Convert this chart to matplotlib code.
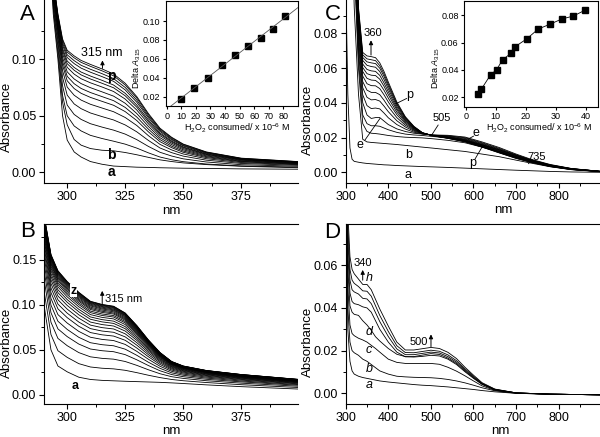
import matplotlib.pyplot as plt
import numpy as np

plt.rcParams['font.family'] = 'Liberation Sans'
plt.rcParams['mathtext.fontset'] = 'custom'
plt.rcParams['mathtext.rm'] = 'Liberation Sans'
plt.rcParams['mathtext.it'] = 'Liberation Sans:italic'

# ---- panel A spectra (mAbs), curves a..p
wl_A = [290, 294, 296, 298, 300, 303, 306, 310, 315, 320, 325, 330, 335, 340, 345, 350, 360, 375, 400]
spec_A = [
    [300, 140, 100, 50, 28.5, 18, 13.5, 9.5, 7.1, 5.5, 5.0, 4.5, 4.3, 4.0, 3.8, 3.6, 3.4, 3.0, 2.7],
    [320, 145, 105, 62, 42, 29, 24, 21, 19.5, 19, 17.5, 15.5, 13.2, 11, 9.5, 8.3, 6.8, 5.3, 4.0],
    [327, 148, 111, 68, 50, 41, 36.6, 32.7, 29.9, 27.5, 24.9, 21.4, 17.2, 13.5, 11.1, 9.4, 7.3, 5.6, 4.5],
    [340, 152, 116, 76.5, 59.5, 51.2, 46.8, 43, 40, 37.3, 33.8, 28.9, 22.9, 17.7, 14.4, 11.9, 9.1, 6.7, 5.3],
    [350, 155, 120, 84, 68.3, 60.5, 56.3, 52.5, 49.3, 46.3, 41.9, 35.8, 28.2, 21.5, 17.4, 14.3, 10.7, 7.8, 6.1],
    [360, 158, 124, 90, 75.4, 68.2, 63.9, 60.2, 56.9, 53.6, 48.5, 41.4, 32.4, 24.7, 19.8, 16.2, 12, 8.6, 6.7],
    [370, 160, 126, 94.9, 81, 74.1, 69.9, 66.3, 62.8, 59.3, 53.7, 45.8, 35.8, 27.1, 21.8, 17.7, 13, 9.3, 7.1],
    [370, 161, 128, 98.3, 84.9, 78.4, 74.2, 70.6, 67, 63.4, 57.4, 48.9, 38.2, 28.9, 23.1, 18.8, 13.8, 9.7, 7.5],
    [380, 163, 130, 101.7, 88.9, 82.6, 78.5, 74.9, 71.2, 67.4, 61.1, 52, 40.6, 30.6, 24.5, 19.9, 14.5, 10.2, 7.8],
    [380, 164, 132, 105.1, 92.9, 86.9, 82.8, 79.2, 75.5, 71.5, 64.8, 55.1, 42.9, 32.4, 25.8, 20.9, 15.2, 10.7, 8.1],
    [390, 166, 134, 107.8, 96.1, 90.3, 86.2, 82.6, 78.8, 74.8, 67.7, 57.6, 44.8, 33.8, 26.9, 21.8, 15.8, 11.1, 8.4],
    [390, 166, 135, 109.8, 98.5, 92.8, 88.7, 85.2, 81.4, 77.2, 69.9, 59.5, 46.3, 34.8, 27.7, 22.4, 16.2, 11.4, 8.6],
    [390, 168, 137, 112.6, 101.6, 96.2, 92.2, 88.6, 84.7, 80.5, 72.9, 62, 48.2, 36.2, 28.8, 23.3, 16.8, 11.7, 8.9],
    [400, 168, 138, 114.6, 104, 98.8, 94.7, 91.2, 87.3, 82.9, 75.1, 63.9, 49.6, 37.3, 29.6, 23.9, 17.3, 12, 9.1],
    [400, 169, 139, 116.6, 106.4, 101.3, 97.3, 93.8, 89.8, 85.4, 77.3, 65.8, 51, 38.3, 30.5, 24.6, 17.7, 12.3, 9.3],
    [400, 170, 140, 118, 108, 103, 99, 95.5, 91.5, 87, 78.8, 67, 52, 39, 31, 25, 18, 12.5, 9.4],
]

# inset A
h2o2_A = [9.5, 19, 28.5, 38, 47, 55.5, 64.5, 73, 81]
dA_A = [0.0175, 0.0295, 0.040, 0.053, 0.064, 0.0735, 0.0825, 0.092, 0.105]

# ---- panel B spectra (mAbs), curves a..z
wl_B = [290, 293, 296, 300, 305, 310, 315, 320, 325, 330, 335, 340, 345, 350, 360, 375, 400]
spec_B = [
    [100, 50, 32, 25.5, 19.5, 17, 16, 15.5, 15, 14.6, 14.2, 13.8, 13.2, 12.5, 11, 9, 6.3],
    [116, 67, 49, 41.6, 34.6, 30.9, 29.5, 28.8, 27.2, 24.6, 21.7, 19.1, 17, 15.6, 13.6, 11.2, 8],
    [129, 80.7, 62.7, 54.6, 46.9, 42.2, 40.5, 39.6, 37, 32.7, 27.8, 23.4, 20.1, 18.2, 15.6, 12.9, 9.4],
    [139, 91.3, 73.3, 64.7, 56.4, 50.9, 49, 47.9, 44.6, 38.9, 32.5, 26.7, 22.5, 20.1, 17.2, 14.3, 10.5],
    [147, 99.8, 81.8, 72.7, 63.9, 57.9, 55.7, 54.5, 50.7, 43.9, 36.2, 29.4, 24.4, 21.7, 18.5, 15.3, 11.3],
    [154, 107.2, 89.2, 79.8, 70.5, 64, 61.6, 60.3, 56, 48.3, 39.5, 31.7, 26.1, 23, 19.6, 16.3, 12.1],
    [160, 113.6, 95.6, 85.8, 76.2, 69.2, 66.7, 65.3, 60.6, 52, 42.3, 33.7, 27.5, 24.2, 20.6, 17.1, 12.7],
    [165, 118.9, 100.9, 90.8, 80.9, 73.6, 70.9, 69.5, 64.4, 55.2, 44.6, 35.4, 28.7, 25.2, 21.4, 17.8, 13.3],
    [169.5, 123.7, 105.7, 95.3, 85.2, 77.5, 74.7, 73.2, 67.8, 58, 46.7, 36.9, 29.7, 26.1, 22.1, 18.4, 13.7],
    [173.5, 127.9, 109.9, 99.4, 89, 80.9, 78.1, 76.5, 70.9, 60.5, 48.6, 38.2, 30.7, 26.8, 22.8, 18.9, 14.2],
    [177, 131.6, 113.6, 102.9, 92.3, 84, 81.1, 79.4, 73.5, 62.6, 50.2, 39.4, 31.5, 27.5, 23.3, 19.4, 14.5],
    [180, 134.8, 116.8, 105.9, 95.1, 86.6, 83.6, 81.9, 75.8, 64.5, 51.6, 40.4, 32.2, 28.1, 23.8, 19.8, 14.9],
    [183, 138, 120, 108.9, 97.9, 89.2, 86.1, 84.4, 78.1, 66.4, 53, 41.4, 33, 28.7, 24.3, 20.2, 15.2],
    [185.5, 140.6, 122.6, 111.4, 100.3, 91.4, 88.2, 86.5, 80, 68, 54.2, 42.2, 33.5, 29.2, 24.7, 20.5, 15.4],
    [187.5, 142.8, 124.8, 113.4, 102.2, 93.1, 89.9, 88.1, 81.5, 69.2, 55.2, 42.9, 34, 29.6, 25, 20.8, 15.7],
    [189.5, 144.9, 126.9, 115.4, 104.1, 94.9, 91.6, 89.8, 83, 70.4, 56.1, 43.5, 34.5, 30, 25.3, 21.1, 15.9],
    [191, 146.5, 128.5, 117, 105.5, 96.2, 92.9, 91, 84.2, 71.4, 56.8, 44, 34.9, 30.2, 25.6, 21.3, 16],
    [192.5, 148.1, 130.1, 118.5, 106.9, 97.5, 94.2, 92.3, 85.3, 72.3, 57.5, 44.5, 35.2, 30.5, 25.8, 21.5, 16.2],
    [194, 149.6, 131.6, 120, 108.3, 98.8, 95.4, 93.5, 86.4, 73.3, 58.2, 45, 35.6, 30.8, 26, 21.7, 16.4],
    [195.2, 150.9, 132.9, 121.2, 109.5, 99.8, 96.4, 94.5, 87.4, 74, 58.8, 45.4, 35.9, 31.1, 26.2, 21.9, 16.5],
    [196.3, 152.1, 134.1, 122.3, 110.5, 100.8, 97.4, 95.4, 88.2, 74.7, 59.3, 45.8, 36.1, 31.3, 26.4, 22, 16.6],
    [197.3, 153.1, 135.1, 123.3, 111.4, 101.7, 98.2, 96.3, 88.9, 75.3, 59.7, 46.1, 36.4, 31.5, 26.6, 22.1, 16.7],
    [198.2, 154.1, 136.1, 124.2, 112.3, 102.4, 99, 97, 89.6, 75.9, 60.2, 46.4, 36.6, 31.6, 26.7, 22.3, 16.8],
    [199, 154.9, 136.9, 125, 113.1, 103.1, 99.7, 97.7, 90.2, 76.4, 60.5, 46.7, 36.8, 31.8, 26.8, 22.4, 16.9],
    [199.6, 155.6, 137.6, 125.6, 113.6, 103.7, 100.2, 98.2, 90.7, 76.8, 60.8, 46.9, 36.9, 31.9, 26.9, 22.5, 17],
    [200, 156, 138, 126, 114, 104, 100.5, 98.5, 91, 77, 61, 47, 37, 32, 27, 22.5, 17],
]

# ---- panel C spectra (mAbs), curves a..p
wl_C = [300, 305, 310, 315, 320, 330, 340, 350, 360, 370, 380, 390, 400, 420, 440, 460, 480, 505,
        540, 580, 620, 660, 700, 735, 780, 830, 900]
spec_C = [
    [110, 45, 14, 7.5, 6.3, 5.8, 5.4, 5.1, 4.9, 4.7, 4.5, 4.3, 4.2, 3.9, 3.7, 3.5, 3.3, 3.1, 2.8, 2.4, 2.0, 1.6, 1.2, 0.9, 0.5, 0.2, 0],
    [250, 220, 180, 140, 95, 45, 19, 17.5, 17.2, 17, 16.8, 16.6, 16.4, 16, 15.5, 15, 14.5, 13.9, 13, 12, 10.5, 9, 7, 5.3, 3.2, 1.5, 0.3],
    [260, 230, 200, 160, 120, 60, 28, 23.5, 22.5, 22.3, 22, 21.6, 21.2, 20.6, 20.2, 20, 19.8, 19.3, 18.4, 17, 14.5, 12, 9, 6.5, 4, 2, 0.5],
    [270, 240, 205, 165, 125, 65, 33, 28, 26.8, 26.8, 26.5, 25.5, 24.5, 23, 22, 21.5, 21.2, 20.6, 19.8, 18.3, 15.8, 13, 9.8, 7, 4.2, 2.1, 0.5],
    [280, 250, 210, 170, 130, 70, 40, 33, 31, 31.5, 31.5, 29.5, 27.5, 25, 23.5, 22.5, 22, 21.5, 21.3, 20.3, 17.5, 14.3, 10.5, 7.5, 4.5, 2.2, 0.5],
    [283, 255, 216, 175, 135, 74, 44.6, 38.4, 36.7, 37, 36.5, 34.1, 31.4, 27.5, 24.9, 23.1, 22.1, 21.4, 21, 19.9, 17, 13.8, 10.1, 7.2, 4.3, 2.1, 0.5],
    [286, 259, 222, 179, 139, 77.5, 48.7, 43.2, 41.7, 41.9, 41, 38.1, 34.9, 29.7, 26.1, 23.7, 22.2, 21.4, 20.8, 19.5, 16.6, 13.4, 9.8, 7, 4.1, 2, 0.5],
    [288, 263, 227, 183, 143, 80.5, 52.2, 47.3, 46, 46, 44.7, 41.5, 37.8, 31.5, 27.1, 24.2, 22.3, 21.3, 20.5, 19.1, 16.2, 13, 9.5, 6.7, 4, 2, 0.5],
    [291, 266, 231, 186, 146, 83.3, 55.4, 51, 49.9, 49.8, 48.2, 44.6, 40.5, 33.2, 28, 24.6, 22.4, 21.2, 20.3, 18.8, 15.9, 12.7, 9.2, 6.5, 3.9, 1.9, 0.4],
    [292, 269, 235, 189, 149, 85.5, 58, 54.1, 53.1, 52.9, 51, 47.2, 42.7, 34.6, 28.8, 25, 22.5, 21.2, 20.2, 18.6, 15.6, 12.4, 9, 6.4, 3.8, 1.8, 0.4],
    [294, 271, 238, 191, 151, 87.5, 60.3, 56.8, 55.9, 55.7, 53.6, 49.5, 44.7, 35.9, 29.5, 25.3, 22.6, 21.2, 20, 18.3, 15.4, 12.1, 8.8, 6.2, 3.7, 1.8, 0.4],
    [295, 273, 241, 193, 153, 89.3, 62.3, 59.2, 58.4, 58.1, 55.8, 51.4, 46.4, 36.9, 30, 25.6, 22.6, 21.1, 19.9, 18.1, 15.2, 11.9, 8.6, 6.1, 3.6, 1.7, 0.4],
    [297, 275, 244, 195, 155, 91, 64.4, 61.6, 60.9, 60.5, 58, 53.4, 48.1, 38, 30.6, 25.9, 22.7, 21.1, 19.8, 17.9, 15, 11.7, 8.4, 6, 3.5, 1.7, 0.4],
    [298, 277, 246, 197, 157, 92.5, 66.1, 63.6, 63, 62.6, 59.9, 55.2, 49.6, 39, 31.2, 26.1, 22.7, 21.1, 19.7, 17.8, 14.8, 11.5, 8.3, 5.9, 3.4, 1.7, 0.4],
    [299, 279, 248, 199, 159, 93.8, 67.6, 65.3, 64.8, 64.3, 61.4, 56.6, 50.8, 39.7, 31.6, 26.3, 22.8, 21, 19.6, 17.6, 14.6, 11.3, 8.1, 5.8, 3.4, 1.6, 0.4],
    [300, 280, 250, 200, 160, 95, 69, 67, 66.6, 66, 63, 58, 52, 40.5, 32, 26.5, 22.8, 21, 19.5, 17.5, 14.5, 11.2, 8, 5.7, 3.3, 1.6, 0.4],
]

# inset C
h2o2_C = [4.0, 5.2, 8.3, 10.3, 12.3, 15.2, 16.3, 20.3, 24.2, 28.2, 32.0, 35.9, 39.7]
dA_C = [0.0222, 0.0259, 0.0365, 0.0402, 0.0475, 0.0524, 0.0568, 0.0627, 0.0700, 0.0736, 0.0773, 0.0795, 0.0837]

# ---- panel D spectra (mAbs), curves a..h
wl_D = [300, 305, 310, 315, 320, 330, 340, 350, 360, 370, 380, 400, 420, 440, 460, 480, 500, 520,
        540, 560, 580, 600, 620, 650, 700, 780, 900]
spec_D = [
    [95, 30, 15, 10.5, 9, 8, 7.4, 7, 6.6, 6.2, 5.8, 5.3, 4.9, 4.5, 4.1, 3.8, 3.6, 3.3, 3, 2.6, 2.2, 1.8, 1.3, 0.7, 0, -0.4, -0.7],
    [100, 40, 24, 20, 19, 17.8, 16, 15, 13.5, 12, 10.5, 9, 8, 7.7, 7.5, 7.4, 7.3, 7, 6.5, 5.8, 4.9, 3.8, 2.6, 1.2, 0, -0.4, -0.7],
    [105, 50, 32, 28, 27, 25.8, 25, 24, 22.5, 21, 19.3, 16, 14.5, 14, 14, 14, 14, 13.6, 12.2, 10.4, 8.2, 5.8, 3.5, 1.4, 0.1, -0.4, -0.7],
    [110, 58, 41, 38, 37, 36.5, 34, 32, 29.5, 26.5, 24.5, 21, 18.3, 17.2, 17, 17.3, 17.8, 17.5, 16, 13.5, 10.1, 7, 4.2, 1.6, 0.2, -0.4, -0.7],
    [115, 65, 47, 43, 42, 41.5, 40.5, 40, 38, 34, 30, 24, 19.3, 17.1, 17.2, 17.9, 18.6, 18.2, 16.5, 14, 10.5, 7.3, 4.3, 1.7, 0.2, -0.4, -0.7],
    [120, 72, 53, 48.5, 47.5, 46.5, 44.5, 44.2, 42, 37.8, 33.6, 26.6, 20.8, 18.1, 18.1, 18.7, 19.3, 18.9, 17.2, 14.6, 11, 7.6, 4.5, 1.8, 0.2, -0.4, -0.7],
    [125, 78, 58, 53, 51.5, 50, 48, 47.8, 45.5, 41, 36.5, 29, 22.3, 19.1, 19, 19.6, 20.2, 19.7, 18, 15.3, 11.5, 8, 4.7, 1.9, 0.2, -0.4, -0.7],
    [130, 85, 64, 58, 56, 53.5, 51, 51, 48.5, 44, 39.5, 31.5, 24, 20.3, 20.3, 20.9, 21.5, 21, 19.2, 16.3, 12.2, 8.5, 5, 2, 0.2, -0.4, -0.7],
]

W, H = 600, 437
fig = plt.figure(figsize=(W / 100, H / 100), dpi=100)


def px_axes(l, t, r, b):
    return fig.add_axes([l / W, 1 - b / H, (r - l) / W, (b - t) / H])


def ftext(x, y, s, **kw):
    fig.text(x / W, 1 - y / H, s, **kw)


def style(ax, size=9):
    ax.tick_params(direction='out', length=3.5, width=0.8, labelsize=size, pad=2)
    ax.tick_params(which='minor', direction='out', length=2, width=0.7)
    for sp in ax.spines.values():
        sp.set_linewidth(0.8)


def draw_spectra(ax, wl, curves):
    for c in curves:
        ax.plot(wl, np.array(c) / 1000.0, color='black', lw=0.6)


def arrow(ax, x, y0, y1):
    ax.annotate('', xy=(x, y1), xytext=(x, y0),
                arrowprops=dict(arrowstyle='-|>', lw=0.7, color='black', mutation_scale=6,
                                shrinkA=0, shrinkB=0))


def leader(ax, p0, p1):
    ax.plot([p0[0], p1[0]], [p0[1], p1[1]], color='black', lw=0.6)


# ---- A
axA = px_axes(44, 0, 298, 183)
draw_spectra(axA, wl_A, spec_A)
axA.set_xlim(290, 399.5)
axA.set_ylim(-0.0095, 0.1525)
axA.set_xticks([300, 325, 350, 375])
axA.set_xticks([312.5, 337.5, 362.5, 387.5], minor=True)
axA.set_yticks([0, 0.05, 0.10])
axA.set_yticks([0.025, 0.075, 0.125], minor=True)
axA.yaxis.set_major_formatter('{x:.2f}')
axA.spines['top'].set_visible(False)
axA.spines['right'].set_visible(False)
style(axA)
axA.text(315, 0.1056, '315 nm', fontsize=9, ha='center', va='center')
arrow(axA, 315.2, 0.092, 0.099)
axA.text(319.2, 0.0852, 'p', fontsize=10, fontweight='bold', ha='center', va='center')
axA.text(319.2, 0.0153, 'b', fontsize=10, fontweight='bold', ha='center', va='center')
axA.text(319.2, 0.0005, 'a', fontsize=10, fontweight='bold', ha='center', va='center')

# ---- B
axB = px_axes(44, 224, 298, 404)
draw_spectra(axB, wl_B, spec_B)
axB.set_xlim(290, 399.5)
axB.set_ylim(-0.0103, 0.19)
axB.set_xticks([300, 325, 350, 375])
axB.set_xticks([312.5, 337.5, 362.5, 387.5], minor=True)
axB.set_yticks([0, 0.05, 0.10, 0.15])
axB.set_yticks([0.025, 0.075, 0.125, 0.175], minor=True)
axB.yaxis.set_major_formatter('{x:.2f}')
axB.spines['right'].set_visible(False)
style(axB)
arrow(axB, 315.1, 0.100, 0.1156)
axB.text(316.2, 0.1066, '315 nm', fontsize=8, ha='left', va='center')
axB.text(302.9, 0.1156, 'z', fontsize=9, fontweight='bold', ha='center', va='center',
         bbox=dict(facecolor='white', edgecolor='none', pad=0.3))
axB.text(303.4, 0.0092, 'a', fontsize=9, fontweight='bold', ha='center', va='center')

# ---- C
axC = px_axes(345.7, 0, 600, 183)
draw_spectra(axC, wl_C, spec_C)
axC.set_xlim(300, 897)
axC.set_ylim(-0.00616, 0.0992)
axC.set_xticks([300, 400, 500, 600, 700, 800])
axC.set_xticks([350, 450, 550, 650, 750, 850], minor=True)
axC.set_yticks([0, 0.02, 0.04, 0.06, 0.08])
axC.set_yticks([0.01, 0.03, 0.05, 0.07, 0.09], minor=True)
axC.yaxis.set_major_formatter('{x:.2f}')
axC.spines['top'].set_visible(False)
axC.spines['right'].set_visible(False)
style(axC)
axC.text(364.9, 0.0800, '360', fontsize=8, ha='center', va='center')
arrow(axC, 359.4, 0.0675, 0.076)
axC.text(451, 0.0444, 'p', fontsize=9, ha='center', va='center')
leader(axC, (443, 0.0425), (418, 0.0395))
axC.text(525, 0.0310, '505', fontsize=8, ha='center', va='center')
leader(axC, (517, 0.0272), (502, 0.0215))
axC.text(333.6, 0.0157, 'e', fontsize=9, ha='center', va='center')
leader(axC, (345, 0.0185), (380.5, 0.031))
axC.text(447, 0.0100, 'b', fontsize=9, ha='center', va='center')
axC.text(447, -0.0016, 'a', fontsize=9, ha='center', va='center')
axC.text(605, 0.0228, 'e', fontsize=9, ha='center', va='center')
leader(axC, (600, 0.0208), (588, 0.0192))
axC.text(598, 0.0052, 'p', fontsize=9, ha='center', va='center')
leader(axC, (604, 0.0078), (620, 0.0145))
axC.text(748, 0.0090, '735', fontsize=8, ha='center', va='center')
leader(axC, (738, 0.0072), (729, 0.0050))

# ---- D
axD = px_axes(345.7, 224, 600, 404)
draw_spectra(axD, wl_D, spec_D)
axD.set_xlim(300, 897)
axD.set_ylim(-0.005, 0.0793)
axD.set_xticks([300, 400, 500, 600, 700, 800])
axD.set_xticks([350, 450, 550, 650, 750, 850], minor=True)
axD.set_yticks([0, 0.02, 0.04, 0.06])
axD.set_yticks([0.01, 0.03, 0.05, 0.07], minor=True)
axD.yaxis.set_major_formatter('{x:.2f}')
axD.spines['right'].set_visible(False)
style(axD)
axD.text(341.3, 0.0609, '340', fontsize=8, ha='center', va='center')
arrow(axD, 339.9, 0.053, 0.0578)
axD.text(472, 0.0242, '500', fontsize=8, ha='center', va='center')
arrow(axD, 500.2, 0.0218, 0.0276)
for lab, yv in [('h', 0.0539), ('d', 0.0289), ('c', 0.0203), ('b', 0.0114), ('a', 0.0039)]:
    axD.text(354.7, yv, lab, fontsize=9, style='italic', ha='center', va='center')

# ---- insets
inA = px_axes(166, 1, 298, 106)
inA.plot(h2o2_A, dA_A, 's', color='black', ms=3.8)
fit = np.polyfit(h2o2_A, dA_A, 1)
xs = np.array([0, 90])
inA.plot(xs, np.polyval(fit, xs), color='#555555', lw=0.6)
inA.set_xlim(-0.5, 90)
inA.set_ylim(0.01005, 0.1212)
inA.set_xticks(range(0, 90, 10))
inA.set_yticks([0.02, 0.04, 0.06, 0.08, 0.10])
inA.yaxis.set_major_formatter('{x:.2f}')
style(inA, size=6.5)
inA.tick_params(length=2.5, pad=1.5)

inC = px_axes(464.3, 1, 598, 106.7)
inC.plot(h2o2_C, dA_C, '-s', color='black', ms=3.8, lw=0.6)
inC.set_xlim(-0.47, 44.1)
inC.set_ylim(0.0131, 0.0905)
inC.set_xticks([0, 10, 20, 30, 40])
inC.set_yticks([0.02, 0.04, 0.06, 0.08])
inC.yaxis.set_major_formatter('{x:.2f}')
style(inC, size=6.5)
inC.tick_params(length=2.5, pad=1.5)

xl = r'H$_2$O$_2$ consumed/ x 10$^{-6}$ M'
yl = r'Delta $A_{315}$'
ftext(237, 128, xl, fontsize=6.5, ha='center', va='center')
ftext(539, 128, xl, fontsize=6.5, ha='center', va='center')
ftext(137, 68, yl, fontsize=6.5, rotation=90, ha='center', va='center')
ftext(435.5, 68, yl, fontsize=6.5, rotation=90, ha='center', va='center')

# ---- shared labels
for x, y in [(6.7, 117), (308, 120), (6.7, 343), (308, 342)]:
    ftext(x, y, 'Absorbance', fontsize=9.5, rotation=90, ha='center', va='center')
for x, y in [(171, 211), (503, 210), (171, 431), (500, 431)]:
    ftext(x, y, 'nm', fontsize=9.5, ha='center', va='center')
for x, y, s in [(27, 14, 'A'), (27.5, 232, 'B'), (333, 14.5, 'C'), (332.5, 232.5, 'D')]:
    ftext(x, y, s, fontsize=16, ha='center', va='center')

fig.savefig('out.png', dpi=100, facecolor='white')
